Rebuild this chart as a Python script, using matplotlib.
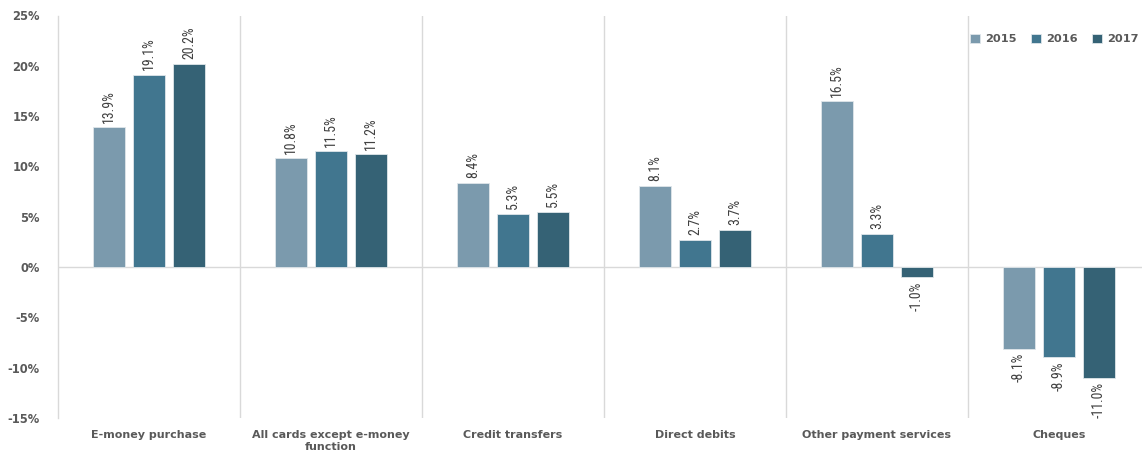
import matplotlib
matplotlib.use("Agg")
import matplotlib.pyplot as plt
from matplotlib import font_manager
import numpy as np

categories = ["E-money purchase", "All cards except e-money\nfunction", "Credit transfers",
              "Direct debits", "Other payment services", "Cheques"]
years = ["2015", "2016", "2017"]
v2015 = [13.9, 10.8, 8.4, 8.1, 16.5, -8.1]
v2016 = [19.1, 11.5, 5.3, 2.7, 3.3, -8.9]
v2017 = [20.2, 11.2, 5.5, 3.7, -1.0, -11.0]
colors = ["#7b9aad", "#41768f", "#356275"]
yticks = [-15, -10, -5, 0, 5, 10, 15, 20, 25]

names = {f.name for f in font_manager.fontManager.ttflist}
label_family = "DejaVu Sans"
for cand in ["Liberation Sans Narrow", "DejaVu Sans Condensed", "Roboto Condensed", "Open Sans Condensed"]:
    if cand in names:
        label_family = cand
        break

W, H = 1142, 451
fig = plt.figure(figsize=(W / 100, H / 100), dpi=100)
left, right, top, bottom = 58, 1150, 15.5, 418
ax = fig.add_axes([left / W, 1 - bottom / H, (right - left) / W, (bottom - top) / H])

x = np.arange(len(categories))
bw = 0.178
off = 0.22
series = [v2015, v2016, v2017]
for i, (vals, c, yr) in enumerate(zip(series, colors, years)):
    pos = x + (i - 1) * off
    ax.bar(pos, vals, width=bw, color=c, edgecolor="#dfe6ea", linewidth=0.6, label=yr, zorder=3)
    for p, v in zip(pos, vals):
        if v >= 0:
            ax.text(p, v + 0.45, f"{v:.1f}%", rotation=90, ha="center", va="bottom",
                    fontsize=10, color="#404040", family=label_family)
        else:
            ax.text(p, v - 0.45, f"{v:.1f}%", rotation=90, ha="center", va="top",
                    fontsize=10, color="#404040", family=label_family)

ax.set_xlim(-0.5, 5.5)
ax.set_ylim(-15, 25)
ax.set_yticks(yticks)
ax.set_yticklabels([f"{t}%" for t in yticks], fontsize=8.3, fontweight="bold", color="#595959")
ax.set_xticks(x)
ax.set_xticklabels(categories, fontsize=8, fontweight="bold", color="#595959", linespacing=1.2)
ax.tick_params(axis="both", length=0)
ax.tick_params(axis="y", pad=13)
ax.tick_params(axis="x", pad=9)

for s in ["top", "right", "bottom"]:
    ax.spines[s].set_visible(False)
ax.spines["left"].set_color("#d9d9d9")
ax.spines["left"].set_linewidth(1)

for b in np.arange(0.5, 5.5, 1.0):
    ax.axvline(b, color="#d9d9d9", linewidth=1, zorder=1)
ax.axhline(0, color="#d9d9d9", linewidth=1, zorder=2)

leg = ax.legend(loc="upper right", bbox_to_anchor=((1149 - left) / (right - left), 0.98),
                ncol=3, frameon=False,
                handlelength=0.85, handleheight=0.85, handletextpad=0.45, columnspacing=1.3,
                prop={"weight": "bold", "size": 8.2})
for t in leg.get_texts():
    t.set_color("#595959")

fig.savefig("out.png", dpi=100)
